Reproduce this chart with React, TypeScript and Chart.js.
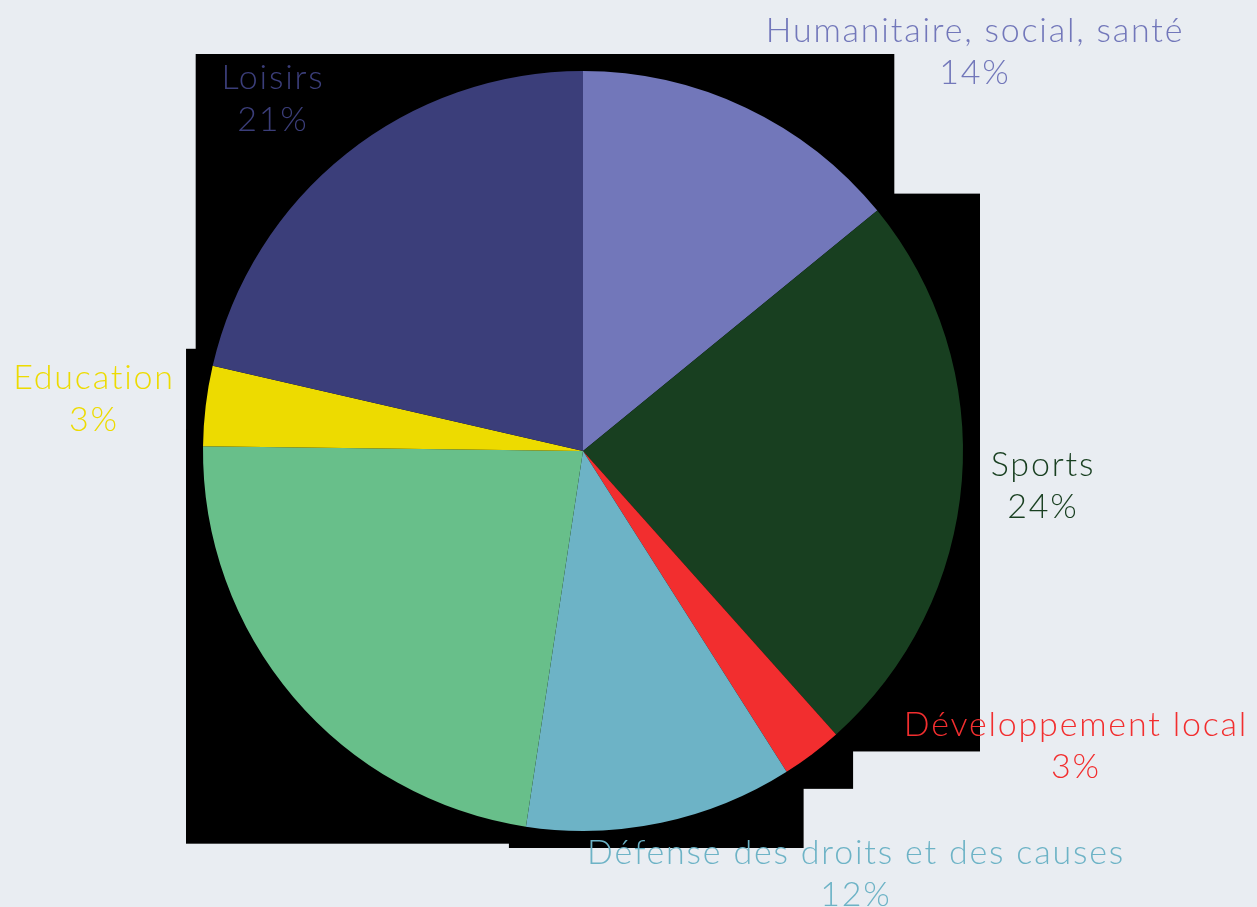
import React, { useEffect, useRef } from "react";
import { Chart, registerables } from "chart.js";

Chart.register(...registerables);

// ---- data ----
const categories = [
  "Humanitaire, social, santé",
  "Sports",
  "Développement local",
  "Défense des droits et des causes",
  "Culture",
  "Education",
  "Loisirs",
];
const shares = [14.1, 24.3, 2.6, 11.4, 22.8, 3.4, 21.4];
const percentLabels = ["14%", "24%", "3%", "12%", "", "3%", "21%"];
const showLabel = [true, true, true, true, false, true, true];

// ---- styles / layout ----
const sliceColors = ["#7277BA", "#183F20", "#F22E2F", "#6DB3C6", "#68BF8A", "#EDDB00", "#3B3E7A"];
const labelOffsets: ([number, number] | null)[] = [
  [392, -420],
  [460, 14],
  [493, 274],
  [273, 402],
  null,
  [-489, -73],
  [-310, -373],
];
const BG = "#E9EDF2";
const FONT = "300 34px Lato, 'Open Sans', sans-serif";
const LETTER_SPACING = "1.8px";
const LINE_GAP = 42;
const SHADOW_PAD = 17;

const shadowBoxes = {
  id: "shadowBoxes",
  beforeDatasetsDraw(chart: any) {
    const ctx = chart.ctx;
    const meta = chart.getDatasetMeta(0);
    ctx.save();
    ctx.fillStyle = "#000";
    meta.data.forEach((arc: any) => {
      const { x, y, startAngle, endAngle, outerRadius } = arc.getProps(
        ["x", "y", "startAngle", "endAngle", "outerRadius"],
        true
      );
      const xs = [x];
      const ys = [y];
      const push = (a: number) => {
        xs.push(x + Math.cos(a) * outerRadius);
        ys.push(y + Math.sin(a) * outerRadius);
      };
      push(startAngle);
      push(endAngle);
      for (let k = -4; k <= 8; k++) {
        const a = (k * Math.PI) / 2;
        if (a > startAngle && a < endAngle) push(a);
      }
      const x0 = Math.min(...xs) - SHADOW_PAD;
      const x1 = Math.max(...xs) + SHADOW_PAD;
      const y0 = Math.min(...ys) - SHADOW_PAD;
      const y1 = Math.max(...ys) + SHADOW_PAD;
      ctx.fillRect(x0, y0, x1 - x0, y1 - y0);
    });
    ctx.restore();
  },
};

const outsideLabels = {
  id: "outsideLabels",
  afterDatasetsDraw(chart: any) {
    const ctx = chart.ctx;
    const meta = chart.getDatasetMeta(0);
    ctx.save();
    ctx.font = FONT;
    try {
      (ctx as any).letterSpacing = LETTER_SPACING;
    } catch (e) {}
    ctx.textAlign = "center";
    ctx.textBaseline = "middle";
    meta.data.forEach((arc: any, i: number) => {
      const off = labelOffsets[i];
      if (!showLabel[i] || !off) return;
      const cx = arc.x + off[0];
      const cy = arc.y + off[1];
      ctx.fillStyle = sliceColors[i];
      ctx.fillText(categories[i], cx, cy);
      ctx.fillText(percentLabels[i], cx, cy + LINE_GAP);
    });
    ctx.restore();
  },
};

export default function App() {
  const ref = useRef<HTMLCanvasElement | null>(null);

  useEffect(() => {
    document.body.style.margin = "0";
    document.body.style.background = BG;
    if (!ref.current) return;
    const chart = new Chart(ref.current, {
      type: "pie",
      data: {
        labels: categories,
        datasets: [
          {
            data: shares,
            backgroundColor: sliceColors,
            borderWidth: 0,
          },
        ],
      },
      options: {
        animation: false,
        responsive: true,
        maintainAspectRatio: false,
        layout: { padding: { left: 203, right: 294, top: 71, bottom: 76 } },
        plugins: {
          legend: { display: false },
          tooltip: { enabled: false },
        },
      },
      plugins: [shadowBoxes, outsideLabels],
    });
    return () => chart.destroy();
  }, []);

  return (
    <div style={{ position: "fixed", left: 0, top: 0, width: 1257, height: 907, background: BG }}>
      <canvas ref={ref} />
    </div>
  );
}
